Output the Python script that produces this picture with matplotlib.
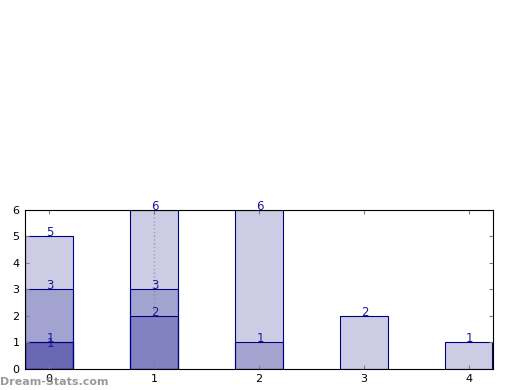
import matplotlib
matplotlib.use('Agg')
import matplotlib.pyplot as plt

# overlapping bars, each drawn with low alpha so the stack darkens
categories = [0, 1, 2, 3, 4]
layer1 = [5, 6, 6, 2, 1]
layer2 = [3, 3, 1, None, None]
layer3 = [1, 2, None, None, None]
layer4 = [1, None, None, None, None]
label_nudge = [0.05, 0.05, 0.05, -0.12]

fig = plt.figure(figsize=(5.2, 3.9), dpi=100)
ax = fig.add_axes([0.048, 0.054, 0.9, 0.408])

for layer, dy in zip([layer1, layer2, layer3, layer4], label_nudge):
    xs = [c for c, v in zip(categories, layer) if v is not None]
    vs = [v for v in layer if v is not None]
    ax.bar(xs, vs, width=0.45, color='navy', alpha=0.2, edgecolor='none')
    ax.bar(xs, vs, width=0.45, fill=False, edgecolor='navy', linewidth=0.8)
    for x, v in zip(xs, vs):
        ax.text(x + 0.01, v + dy + 0.08, str(v), ha='center', va='center',
                color='#1a1a99', fontsize=8.5)

ax.axvline(1, color='gray', linestyle=':', linewidth=1, alpha=0.6)

ax.set_xlim(-0.23, 4.23)
ax.set_ylim(0, 6)
ax.set_xticks(categories)
ax.set_yticks(range(7))
ax.tick_params(direction='in', length=3, color='gray', labelsize=8,
               top=True, right=True, pad=4)
for s in ax.spines.values():
    s.set_linewidth(0.8)

fig.text(0.0, 0.012, 'Dream-Stats.com', color='gray', fontsize=8,
         fontweight='bold', alpha=0.8)

fig.savefig('out.png', dpi=100)
